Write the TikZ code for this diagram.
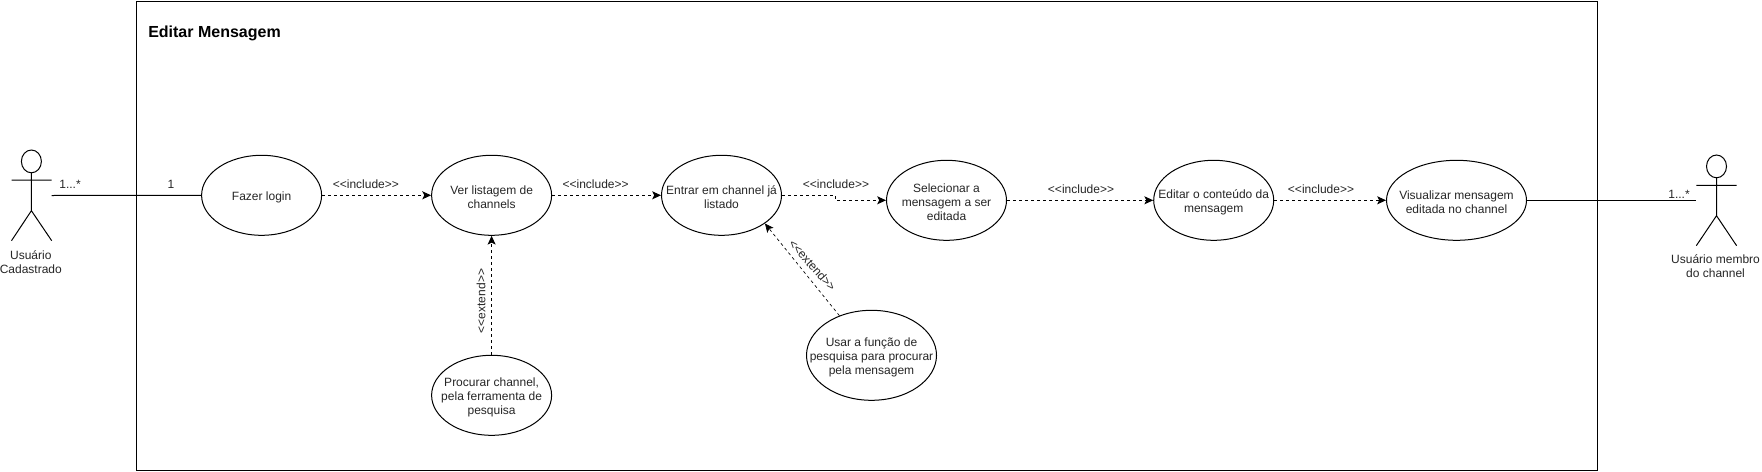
\documentclass[tikz,border=0pt]{standalone}
\usepackage{fontspec}
\setmainfont{Liberation Sans}[Ligatures=TeXOff]
\usetikzlibrary{shapes.geometric,arrows.meta}
\tikzset{
  px/.style={x=0.75pt,y=-0.75pt},
  lbl/.style={font=\fontsize{9}{10.5}\selectfont,align=center,inner sep=0pt,text=black!85},
  usecase/.style={ellipse,draw=black,line width=0.75pt,inner sep=0pt,fill=white,minimum height=60pt},
  wide/.style={usecase,minimum width=90pt},
  uctext/.style={label={[lbl,yshift=-1.5pt]center:{#1}}},
  assoc/.style={line width=0.75pt,draw=black},
  dep/.style={line width=0.75pt,draw=black,dash pattern=on 2.25pt off 2.25pt,-{Stealth[length=6.6pt,width=6pt,inset=1.5pt]}},
  stick/.style={line width=0.75pt,draw=black}
}
\begin{document}
\begin{tikzpicture}[px]
\useasboundingbox (0,0) rectangle (1762,471);
\fill[white] (0,0) rectangle (1762,471);
% frame
\node[draw=black,line width=0.75pt,minimum width=1095.4pt,minimum height=351.8pt,inner sep=0pt,anchor=north west] (frame) at (136,0.5) {};
\node[anchor=west,inner sep=0pt,font=\fontsize{12}{14}\selectfont\bfseries] (title) at (148,33.5) {Editar Mensagem};
% use cases
\node[wide,uctext={Fazer login}] (login) at (261.6,195.3) {};
\node[wide,uctext={Ver listagem de\\channels}] (ver) at (491.6,195.3) {};
\node[wide,uctext={Entrar em channel já\\listado}] (entrar) at (721.5,195.3) {};
\node[wide,uctext={Selecionar a\\mensagem a ser\\editada}] (sel) at (946.5,200.3) {};
\node[wide,uctext={Editar o conteúdo da\\mensagem}] (editar) at (1213.7,200.3) {};
\node[usecase,minimum width=105pt,uctext={Visualizar mensagem\\editada no channel}] (vis) at (1456.5,200.3) {};
\node[wide,uctext={Procurar channel,\\pela ferramenta de\\pesquisa}] (proc) at (491.6,395.3) {};
\node[usecase,minimum width=97.5pt,minimum height=67.5pt,uctext={Usar a função de\\pesquisa para procurar\\pela mensagem}] (usar) at (871.5,355.3) {};
% actors
\coordinate (la) at (51.7,195.5);
\draw[stick] (31.4,161.4) ellipse [x radius=10,y radius=11.4];
\draw[stick] (31.4,172.8) -- (31.4,210.7) (11.5,180) -- (51.7,180) (11.5,240.7) -- (31.4,210.7) -- (51.7,240.7);
\node[lbl] (lalbel) at (30.8,261.7) {Usuário\\Cadastrado};
\coordinate (ra) at (1696.3,200.3);
\draw[stick] (1716.5,166.4) ellipse [x radius=10,y radius=11.4];
\draw[stick] (1716.5,177.8) -- (1716.5,215.7) (1696.3,185.3) -- (1736.6,185.3) (1696.3,245.7) -- (1716.5,215.7) -- (1736.6,245.7);
\node[lbl] (ralbel) at (1715.5,266.5) {Usuário membro\\do channel};
% connectors
\draw[assoc] (la) -- (login.west);
\draw[assoc] (vis.east) -- (ra);
\draw[dep] (login.east) -- (ver.west);
\draw[dep] (ver.east) -- (entrar.west);
\draw[dep] (entrar.east) -- ++(53.2,0) |- (sel.west);
\draw[dep] (sel.east) -- (editar.west);
\draw[dep] (editar.east) -- (vis.west);
\draw[dep] (proc.north) -- (ver.south);
\draw[dep,line width=0.5pt] (usar.129.4) -- (entrar.-33.7);
% labels
\node[lbl] (m1) at (70,184.3) {1...*};
\node[lbl] (m2) at (171,184.3) {1};
\node[lbl] (m3) at (1679,194.7) {1...*};
\node[lbl] (i1) at (365.9,184.3) {<<include>>};
\node[lbl] (i2) at (595.6,184.3) {<<include>>};
\node[lbl] (i3) at (836,184.7) {<<include>>};
\node[lbl] (i4) at (1081,189.3) {<<include>>};
\node[lbl] (i5) at (1321,189.3) {<<include>>};
\node[lbl,rotate=90] (e1) at (481,301) {<<extend>>};
\node[lbl,rotate=-48.6] (e2) at (812.4,265.3) {<<extend>>};
\end{tikzpicture}
\end{document}
